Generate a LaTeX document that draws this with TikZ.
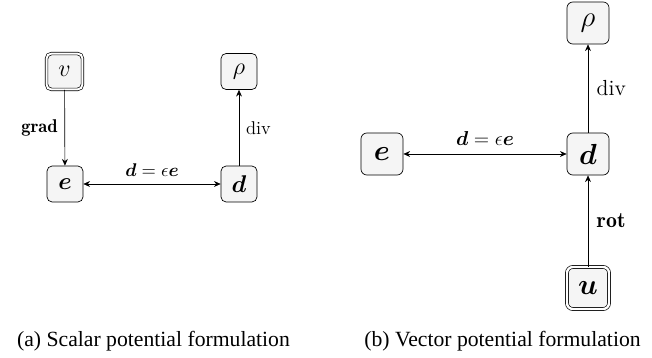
\documentclass[tikz,border=0pt]{standalone}
\usepackage{amsmath}
\usepackage{amssymb}
\usepackage{bm}
\usepackage{fontspec}
\usepackage{tikz}
\usetikzlibrary{arrows.meta}
\newfontfamily\capfont{Liberation Serif}

\begin{document}
\begin{tikzpicture}[x=0.595pt, y=-0.595pt,
  fld/.style={draw, rounded corners=3pt, fill=gray!8, minimum size=21.4pt, inner sep=1pt, font=\fontsize{15.5}{18}\selectfont},
  pot/.style={fld, double, double distance=1.2pt},
  bfld/.style={fld, minimum size=25pt, rounded corners=3.5pt, font=\fontsize{18.5}{21}\selectfont},
  bpot/.style={bfld, double, double distance=1.4pt},
  lbl/.style={font=\fontsize{11}{13}\selectfont, inner sep=4pt},
  blbl/.style={font=\fontsize{13}{15}\selectfont, inner sep=5pt},
  arr/.style={-{Stealth[length=4pt, width=3.5pt]}, thin},
  darr/.style={{Stealth[length=4pt, width=3.5pt]}-{Stealth[length=4pt, width=3.5pt]}, thin},
  captxt/.style={anchor=base, inner sep=0pt, font=\fontsize{12.9}{15}\capfont}]
\useasboundingbox (0,0) rectangle (652,358);
% (a) scalar potential
\node[pot] (v) at (64.5,71.5) {$v$};
\node[fld] (rhoa) at (239,71.5) {$\rho$};
\node[fld] (ea) at (65,184) {$\bm{e}$};
\node[fld] (da) at (239,184) {$\bm{d}$};
\draw[arr] (v) -- node[lbl, left] {$\mathbf{grad}$} (ea);
\draw[arr] (da) -- node[lbl, right] {$\mathrm{div}$} (rhoa);
\draw[darr] (ea) -- node[lbl, above] {$\bm{d}=\epsilon\bm{e}$} (da);
\node[captxt] (capa) at (153.5,347) {(a) Scalar potential formulation};
% (b) vector potential
\node[bfld] (rhob) at (588,23) {$\rho$};
\node[bfld] (eb) at (382,154) {$\bm{e}$};
\node[bfld] (db) at (588,154) {$\bm{d}$};
\node[bpot] (u) at (588,288) {$\bm{u}$};
\draw[arr] (db) -- node[blbl, right] {$\mathrm{div}$} (rhob);
\draw[arr] (u) -- node[blbl, right] {$\mathbf{rot}$} (db);
\draw[darr] (eb) -- node[blbl, above] {$\bm{d}=\epsilon\bm{e}$} (db);
\node[captxt] (capb) at (502.5,347) {(b) Vector potential formulation};
\end{tikzpicture}
\end{document}
